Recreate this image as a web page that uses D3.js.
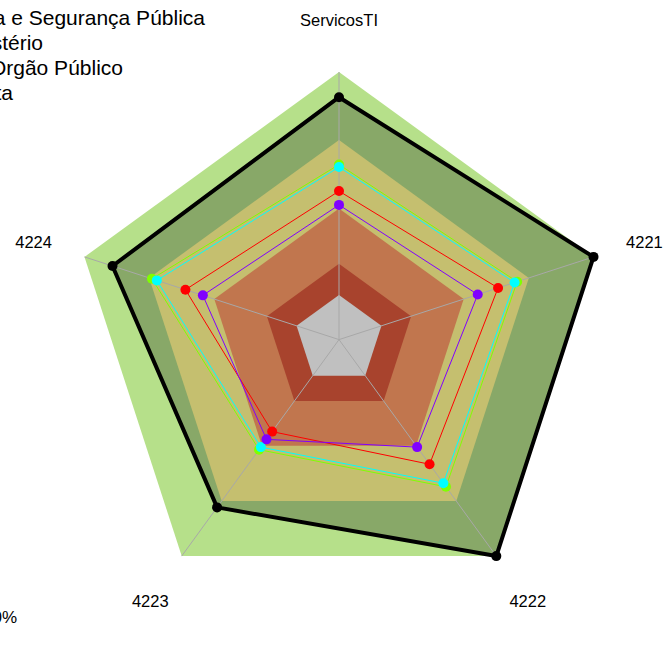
<!DOCTYPE html>
<html>
<head>
<meta charset="utf-8">
<script src="https://cdn.jsdelivr.net/npm/d3@7"></script>
<style>
  body { margin: 0; background: #fff; }
  svg { display: block; font-family: "Liberation Sans", Arial, sans-serif; }
</style>
</head>
<body>
<svg id="chart" width="663" height="668"></svg>
<script>
// axes, clockwise from the top
const axes = ["ServicosTI", "4221", "4222", "4223", "4224"];

// background bands (percent), outer to inner
const bandLevels = [100, 69.5, 38.8, 14, 0];
const bandColors = ["#b6e08a", "#c5bf6f", "#c1764e", "#a8432d", "#c0c0c0"];

// series values in percent, one per axis
const metaVals   = [88.7, 100, 100, 73, 86.8];
const greenVals  = [58.5, 64, 61.6, 41, 68.2];
const cyanVals   = [57.4, 62.8, 59.6, 39.6, 65.9];
const redVals    = [46.6, 55, 49.1, 31, 52.4];
const purpleVals = [40.4, 45.4, 39.6, 35.3, 44.2];

const legendNames = ["Média Secretaria de Justiça e Segurança Pública", "Média Ministério", "Média Orgão Público", "Meta"];
const legendEnds = [205, 43, 123, 13];

const cx = 339, cy = 339.6, R = 267.6;

const svg = d3.select("#chart");
const g = svg.append("g").attr("transform", `translate(${cx},${cy})`);

const r = d3.scaleLinear().domain([0, 100]).range([R / 6, R]);
const angle = d3.scalePoint().domain(d3.range(axes.length)).range([0, 2 * Math.PI * (axes.length - 1) / axes.length]);

const radial = d3.lineRadial()
    .angle((d, i) => angle(i))
    .radius(d => r(d))
    .curve(d3.curveLinearClosed);

function ring(v) { return axes.map(() => v); }

// outer band
g.append("path").attr("d", radial(ring(bandLevels[0]))).attr("fill", bandColors[0]);
// Meta fill
g.append("path").attr("d", radial(metaVals)).attr("fill", "#88a868");
// inner bands
bandLevels.slice(1).forEach((lv, i) => {
    g.append("path").attr("d", radial(ring(lv))).attr("fill", bandColors[i + 1]);
});

// axis lines
g.selectAll("line.axis")
    .data(axes)
    .enter()
    .append("line")
    .attr("class", "axis")
    .attr("x1", 0).attr("y1", 0)
    .attr("x2", (d, i) => R * Math.sin(angle(i)))
    .attr("y2", (d, i) => -R * Math.cos(angle(i)))
    .attr("stroke", "#a8a8a8")
    .attr("stroke-width", 1);

// axis labels
g.selectAll("text.lab")
    .data(axes)
    .enter()
    .append("text")
    .attr("class", "lab")
    .text(d => d)
    .attr("x", (d, i) => 1.2 * R * Math.sin(angle(i)))
    .attr("y", (d, i) => -1.2 * R * Math.cos(angle(i)) + 2)
    .attr("dy", "0.35em")
    .attr("text-anchor", "middle")
    .attr("font-size", "16.5px")
    .attr("fill", "#000");

const series = [
    { vals: metaVals, color: "#000000", width: 4 },
    { vals: greenVals, color: "#80ff00", width: 1 },
    { vals: cyanVals, color: "#00ffff", width: 1 },
    { vals: redVals, color: "#ff0000", width: 1 },
    { vals: purpleVals, color: "#8000ff", width: 1 }
];

series.forEach(s => {
    g.append("path")
        .attr("d", radial(s.vals))
        .attr("fill", "none")
        .attr("stroke", s.color)
        .attr("stroke-width", s.width)
        .attr("stroke-linejoin", "round");
    g.selectAll(null)
        .data(s.vals)
        .enter()
        .append("circle")
        .attr("cx", (d, i) => r(d) * Math.sin(angle(i)))
        .attr("cy", (d, i) => -r(d) * Math.cos(angle(i)))
        .attr("r", 5)
        .attr("fill", s.color);
});

// legend (cut by the left edge, as in the reference)
svg.selectAll("text.leg")
    .data(legendNames)
    .enter()
    .append("text")
    .attr("class", "leg")
    .text(d => d)
    .attr("x", (d, i) => legendEnds[i])
    .attr("y", (d, i) => 25 + i * 25)
    .attr("text-anchor", "end")
    .attr("font-size", "21px")
    .attr("fill", "#000");

svg.append("text")
    .text("100%")
    .attr("x", 17)
    .attr("y", 623)
    .attr("text-anchor", "end")
    .attr("font-size", "17px")
    .attr("fill", "#000");
</script>
</body>
</html>
